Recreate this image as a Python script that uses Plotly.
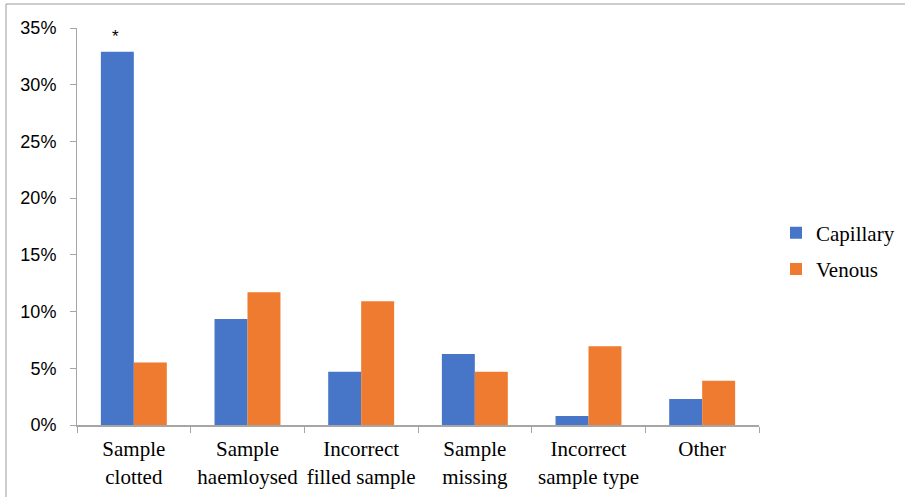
import plotly.graph_objects as go

categories = ["Sample<br>clotted", "Sample<br>haemloysed", "Incorrect<br>filled sample",
              "Sample<br>missing", "Incorrect<br>sample type", "Other"]
capillary = [32.9, 9.35, 4.7, 6.25, 0.8, 2.3]
venous = [5.5, 11.7, 10.9, 4.7, 6.95, 3.9]
y_ticks = [0, 5, 10, 15, 20, 25, 30, 35]
y_tick_labels = [f"{v}%" for v in y_ticks]

PL, PR, PT, PB = 77, 759, 28, 425
PW, PH = PR - PL, PB - PT

fig = go.Figure()
fig.add_trace(go.Bar(x=categories, y=capillary, name="Capillary",
                     marker=dict(color="#4775C8", line=dict(width=0)),
                     legendgroup="a"))
fig.add_trace(go.Bar(x=categories, y=venous, name="Venous",
                     marker=dict(color="#EE7B30", line=dict(width=0)),
                     legendgroup="b"))

fig.add_annotation(x=categories[0], y=capillary[0], text="*", showarrow=False,
                   xshift=-18.5, yshift=4, yanchor="bottom",
                   font=dict(family="Liberation Sans", size=17, color="#000"))

# outer frame (top and left edges visible)
fig.add_shape(type="rect", xref="paper", yref="paper",
              x0=(6 - PL) / PW, x1=(920 - PL) / PW,
              y0=(PB - 510) / PH, y1=(PB - 4) / PH,
              line=dict(color="#9a9a9a", width=1), fillcolor="rgba(0,0,0,0)")

fig.update_layout(
    width=905, height=497,
    margin=dict(l=PL, r=905 - PR, t=PT, b=497 - PB, autoexpand=False),
    plot_bgcolor="white", paper_bgcolor="white",
    barmode="group", bargap=0.42, bargroupgap=0,
    showlegend=True,
    legend=dict(x=(776 - PL) / PW, y=(PB - 251) / PH, xanchor="left", yanchor="middle",
                font=dict(family="Liberation Serif", size=21, color="#000"),
                tracegroupgap=6, traceorder="grouped", itemwidth=30),
    font=dict(family="Liberation Serif", color="#000"),
)
fig.update_yaxes(range=[0, 35], tickvals=y_ticks, ticktext=y_tick_labels,
                 showgrid=False, zeroline=False, automargin=False,
                 showline=True, linecolor="#a6a6a6", linewidth=1,
                 ticks="outside", ticklen=6, tickcolor="#a6a6a6",
                 ticklabelstandoff=10,
                 tickfont=dict(family="Liberation Sans", size=18, color="#000"))
fig.update_xaxes(showgrid=False, showline=True, linecolor="#a6a6a6", linewidth=2,
                 automargin=False, tickangle=0,
                 ticks="outside", ticklen=6, tickcolor="#a6a6a6", tickson="boundaries",
                 ticklabelstandoff=4,
                 tickfont=dict(family="Liberation Serif", size=21, color="#000"))

fig.write_html("out.html", config={"displayModeBar": False},
               post_script="document.body.style.margin='0';document.body.style.overflow='hidden';")
